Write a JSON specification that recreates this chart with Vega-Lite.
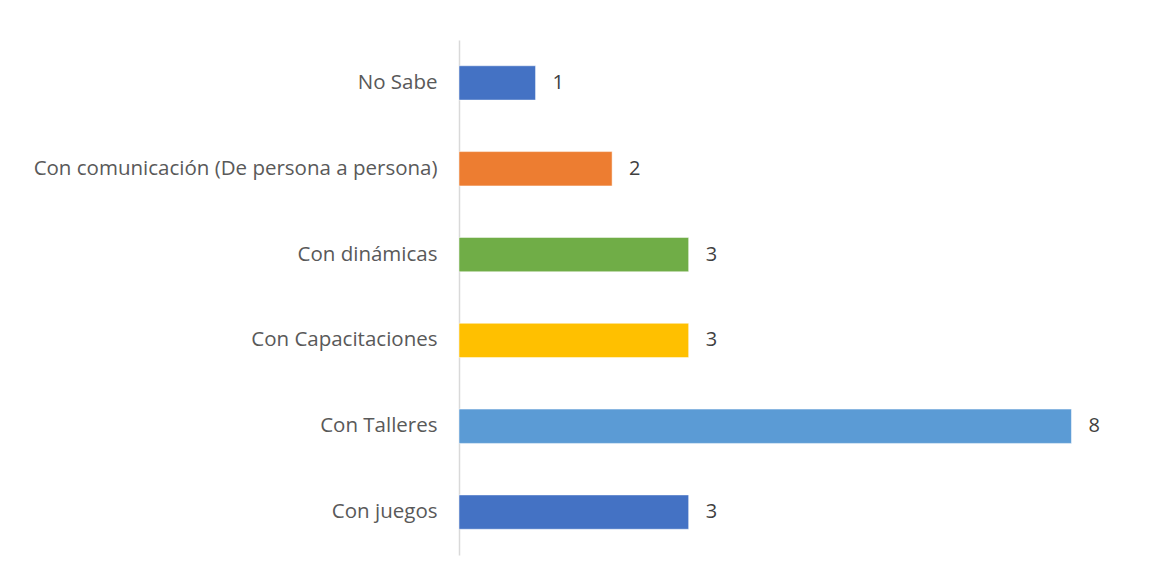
{
  "$schema": "https://vega.github.io/schema/vega-lite/v6.json",
  "autosize": {"type": "none"},
  "width": 689,
  "height": 515,
  "padding": {"left": 459, "top": 40, "right": 16, "bottom": 23},
  "background": "#ffffff",
  "config": {"view": {"stroke": null}, "font": "Open Sans"},
  "data": {
    "values": [
      {"cat": "No Sabe", "val": 1, "color": "#4472C4"},
      {"cat": "Con comunicación (De persona a persona)", "val": 2, "color": "#ED7D31"},
      {"cat": "Con dinámicas", "val": 3, "color": "#70AD47"},
      {"cat": "Con Capacitaciones", "val": 3, "color": "#FFC000"},
      {"cat": "Con Talleres", "val": 8, "color": "#5B9BD5"},
      {"cat": "Con juegos", "val": 3, "color": "#4472C4"}
    ]
  },
  "encoding": {
    "y": {
      "field": "cat", "type": "nominal", "sort": null, "title": null,
      "scale": {"paddingInner": 0.6, "paddingOuter": 0.3},
      "axis": {"ticks": false, "domainColor": "#D9D9D9", "domainWidth": 1.5, "labelFontSize": 20.5, "labelColor": "#595959", "labelPadding": 22, "labelLimit": 500, "labelFont": "Open Sans"}
    },
    "x": {
      "field": "val", "type": "quantitative", "title": null,
      "scale": {"domain": [0, 9], "nice": false},
      "axis": null
    }
  },
  "layer": [
    {"mark": {"type": "bar", "stroke": "#ffffff", "strokeWidth": 0.5}, "encoding": {"color": {"field": "color", "type": "nominal", "scale": null}}},
    {"mark": {"type": "text", "align": "left", "baseline": "middle", "dx": 17, "fontSize": 20, "color": "#404040", "font": "Open Sans"}, "encoding": {"text": {"field": "val", "type": "quantitative"}}}
  ]
}
